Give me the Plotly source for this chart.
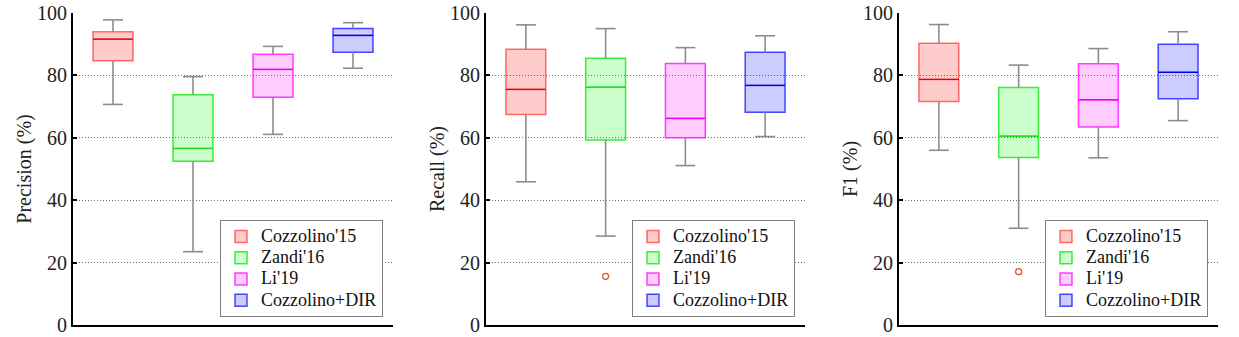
import plotly.graph_objects as go

methods = ["Cozzolino'15", "Zandi'16", "Li'19", "Cozzolino+DIR"]
positions = [1, 2, 3, 4]

# Precision (%)
prec_lower = [70.7, 23.5, 61.1, 82.3]
prec_q1 = [84.7, 52.5, 73.0, 87.4]
prec_median = [91.6, 56.6, 81.9, 92.8]
prec_q3 = [94.0, 73.8, 86.8, 95.0]
prec_upper = [97.8, 79.6, 89.3, 96.9]
prec_outliers = [[], [], [], []]

# Recall (%)
rec_lower = [45.9, 28.5, 51.1, 60.4]
rec_q1 = [67.5, 59.3, 60.0, 68.2]
rec_median = [75.5, 76.2, 66.2, 76.8]
rec_q3 = [88.4, 85.5, 83.8, 87.4]
rec_upper = [96.2, 95.0, 88.9, 92.7]
rec_outliers = [[], [15.6], [], []]

# F1 (%)
f1_lower = [56.0, 31.0, 53.6, 65.5]
f1_q1 = [71.6, 53.7, 63.5, 72.5]
f1_median = [78.7, 60.5, 72.2, 81.0]
f1_q3 = [90.3, 76.1, 83.7, 90.0]
f1_upper = [96.3, 83.3, 88.6, 94.0]
f1_outliers = [[], [17.1], [], []]

y_ticks = [0, 20, 40, 60, 80, 100]

panels = [
    ("Precision (%)", prec_lower, prec_q1, prec_median, prec_q3, prec_upper, prec_outliers),
    ("Recall (%)", rec_lower, rec_q1, rec_median, rec_q3, rec_upper, rec_outliers),
    ("F1 (%)", f1_lower, f1_q1, f1_median, f1_q3, f1_upper, f1_outliers),
]

edge_colors = ["rgba(255,0,0,0.55)", "rgba(0,230,0,0.75)", "rgba(255,0,255,0.75)", "rgba(0,0,255,0.7)"]
median_colors = ["#e00000", "#22dd22", "#ee00ee", "#0000ee"]
fill_colors = ["rgba(255,0,0,0.2)", "rgba(0,255,0,0.2)", "rgba(255,0,255,0.2)", "rgba(0,0,255,0.2)"]
whisker_color = "#8c8c8c"
outlier_color = "#e0552e"

W, H = 1239, 337
x_doms = [(73 / W, 393 / W), (486 / W, 805 / W), (899 / W, 1218 / W)]
y_dom = ((337 - 325) / H, (337 - 13) / H)

fig = go.Figure()
FONT = "Liberation Serif"

box_w = 0.5
cap_half = 0.125

for p, (title, lo, q1, med, q3, up, outl) in enumerate(panels):
    xa = "x" if p == 0 else f"x{p+1}"
    ya = "y" if p == 0 else f"y{p+1}"
    lg = "legend" if p == 0 else f"legend{p+1}"
    for i, m in enumerate(methods):
        xi = positions[i]
        # whiskers and caps (gray)
        fig.add_trace(go.Scatter(
            x=[xi, xi, None, xi, xi, None,
               xi - cap_half, xi + cap_half, None, xi - cap_half, xi + cap_half],
            y=[q3[i], up[i], None, lo[i], q1[i], None,
               up[i], up[i], None, lo[i], lo[i]],
            mode="lines", line=dict(color=whisker_color, width=1.6),
            showlegend=False, hoverinfo="skip", xaxis=xa, yaxis=ya))
        # box body
        fig.add_trace(go.Box(
            x=[xi], q1=[q1[i]], median=[med[i]], q3=[q3[i]],
            lowerfence=[q1[i]], upperfence=[q3[i]],
            width=box_w, name="<span style='font-size:18px'>" + m + "</span>",
            fillcolor=fill_colors[i],
            line=dict(color=edge_colors[i], width=1.5),
            whiskerwidth=0, boxpoints=False,
            showlegend=True, legend=lg, xaxis=xa, yaxis=ya))
        # median line
        fig.add_trace(go.Scatter(
            x=[xi - box_w / 2, xi + box_w / 2], y=[med[i], med[i]],
            mode="lines", line=dict(color=median_colors[i], width=1.3),
            showlegend=False, hoverinfo="skip", xaxis=xa, yaxis=ya))
        if outl[i]:
            fig.add_trace(go.Scatter(
                x=[xi] * len(outl[i]), y=outl[i], mode="markers",
                marker=dict(symbol="circle-open", size=6, color=outlier_color,
                            line=dict(width=1.3, color=outlier_color)),
                showlegend=False, hoverinfo="skip", xaxis=xa, yaxis=ya))

    xkey = "xaxis" if p == 0 else f"xaxis{p+1}"
    ykey = "yaxis" if p == 0 else f"yaxis{p+1}"
    fig.update_layout(**{
        xkey: dict(domain=list(x_doms[p]), anchor=ya, range=[0.5, 4.5], automargin=False,
                   showline=True, linecolor="black", linewidth=2,
                   showticklabels=False, ticks="", showgrid=False, zeroline=False),
        ykey: dict(domain=list(y_dom), anchor=xa, range=[0, 100], automargin=False,
                   tickvals=y_ticks, ticks="inside", ticklen=4, tickwidth=1.5,
                   tickcolor="black", showline=True, linecolor="black", linewidth=2,
                   showgrid=True, gridcolor="rgba(90,90,90,0.9)", griddash="1px,2px",
                   gridwidth=1, zeroline=False,
                   tickfont=dict(family=FONT, size=20, color="#222"),
                   title=dict(text=title, font=dict(family=FONT, size=20, color="#222"),
                              standoff=0)),
    })
    fig.update_layout(**{
        lg: dict(x=(x_doms[p][1] * W - 10) / W, xanchor="right",
                 y=(337 - 317) / H, yanchor="bottom",
                 bordercolor="#7f7f7f", borderwidth=1, bgcolor="white",
                 font=dict(family=FONT, size=14, color="#111"),
                 tracegroupgap=0, itemwidth=30)
    })

fig.update_layout(width=W, height=H, margin=dict(l=0, r=0, t=0, b=0, autoexpand=False),
                  paper_bgcolor="white", plot_bgcolor="white", boxmode="overlay",
                  font=dict(family=FONT))

fig.write_html("out.html")
